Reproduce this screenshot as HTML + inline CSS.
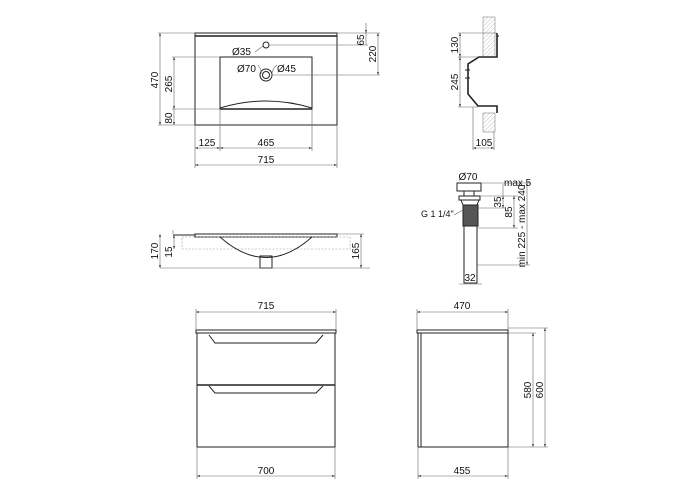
<!DOCTYPE html>
<html><head><meta charset="utf-8"><style>
html,body{margin:0;padding:0;background:#fff}
svg{display:block}
text{font-family:"Liberation Sans",Arial,sans-serif;font-size:10px;fill:#111}
.l{stroke:#222;stroke-width:1;fill:none}
.t{stroke:#666;stroke-width:0.6;fill:none}
.h{stroke:#222;stroke-width:1.6;fill:none}
</style></head><body>
<svg width="700" height="500" viewBox="0 0 700 500" xmlns="http://www.w3.org/2000/svg">
<defs>
<marker id="a" viewBox="0 0 10 10" refX="10" refY="5" markerWidth="5" markerHeight="5" orient="auto-start-reverse"><path d="M0,2 L10,5 L0,8z" fill="#222"/></marker>
<pattern id="hp" width="3" height="3" patternUnits="userSpaceOnUse" patternTransform="rotate(45)"><line x1="0" y1="0" x2="0" y2="3" stroke="#999" stroke-width="0.6"/></pattern>
</defs>

<!-- TOP VIEW -->
<rect x="195" y="33" width="142" height="92" class="l"/>
<line x1="195" y1="36" x2="337" y2="36" class="h"/>
<rect x="220" y="57" width="92" height="52" class="l"/>
<line x1="220" y1="109" x2="312" y2="109" class="h"/>
<path d="M220,108 Q266,94 312,108" class="l"/>
<circle cx="266" cy="45" r="3" class="l"/>
<circle cx="266" cy="75" r="6" class="l"/>
<circle cx="266" cy="75" r="3.5" class="l"/>
<path d="M255,52 L263,46 M258,65 Q262,70 261,74 M272,74 Q272,69 277,65" class="t"/>
<text x="232" y="55">Ø35</text>
<text x="237" y="72">Ø70</text>
<text x="277" y="72">Ø45</text>
<!-- dims -->
<path d="M195,33 H158 M195,125 H158 M220,57 H172 M220,109 H172" class="t"/>
<line x1="160" y1="33" x2="160" y2="125" class="t" marker-start="url(#a)" marker-end="url(#a)"/>
<line x1="174" y1="57" x2="174" y2="109" class="t" marker-start="url(#a)" marker-end="url(#a)"/>
<line x1="174" y1="109" x2="174" y2="125" class="t" marker-end="url(#a)"/>
<text transform="translate(158,80) rotate(-90)" text-anchor="middle">470</text>
<text transform="translate(172,84) rotate(-90)" text-anchor="middle">265</text>
<text transform="translate(172,118) rotate(-90)" text-anchor="middle">80</text>
<path d="M337,33 H380 M269,45 H368 M272,75 H380" class="t"/>
<line x1="366" y1="23" x2="366" y2="33" class="t" marker-end="url(#a)"/>
<line x1="366" y1="33" x2="366" y2="45" class="t"/>
<line x1="378" y1="33" x2="378" y2="75" class="t" marker-start="url(#a)" marker-end="url(#a)"/>
<text transform="translate(364,40) rotate(-90)" text-anchor="middle">65</text>
<text transform="translate(376,54) rotate(-90)" text-anchor="middle">220</text>
<path d="M195,125 V168 M220,109 V151 M312,109 V151 M337,125 V168" class="t"/>
<line x1="195" y1="148" x2="220" y2="148" class="t" marker-start="url(#a)" marker-end="url(#a)"/>
<line x1="220" y1="148" x2="312" y2="148" class="t" marker-start="url(#a)" marker-end="url(#a)"/>
<line x1="195" y1="165" x2="337" y2="165" class="t" marker-start="url(#a)" marker-end="url(#a)"/>
<text x="207" y="146" text-anchor="middle">125</text>
<text x="266" y="146" text-anchor="middle">465</text>
<text x="266" y="163" text-anchor="middle">715</text>

<!-- SECTION VIEW -->
<rect x="483" y="17" width="12" height="40" fill="url(#hp)" stroke="#888" stroke-width="0.6"/>
<rect x="483" y="113" width="12" height="19" fill="url(#hp)" stroke="#888" stroke-width="0.6"/>
<path d="M497,33 V57 H479 L468,64 V94 L478,106 H497 V113" class="h"/>
<path d="M497,36 H499 M465,70 H470 M465,78 H470" class="l"/>
<path d="M497,33 H458 M478,57 H458 M478,107 H458" class="t"/>
<line x1="460" y1="33" x2="460" y2="57" class="t" marker-start="url(#a)" marker-end="url(#a)"/>
<line x1="460" y1="57" x2="460" y2="107" class="t" marker-start="url(#a)" marker-end="url(#a)"/>
<text transform="translate(458,45) rotate(-90)" text-anchor="middle">130</text>
<text transform="translate(458,82) rotate(-90)" text-anchor="middle">245</text>
<path d="M473,107 V150 M494,132 V150" class="t"/>
<line x1="473" y1="148" x2="494" y2="148" class="t" marker-start="url(#a)" marker-end="url(#a)"/>
<text x="484" y="146" text-anchor="middle">105</text>

<!-- DRAIN -->
<rect x="457" y="183" width="24" height="8" class="l"/>
<rect x="464" y="191" width="10" height="5" class="l"/>
<rect x="459" y="196" width="21" height="4" class="l"/>
<path d="M461,200 L463,205 H477 L479,200" class="l"/>
<rect x="463" y="205" width="15" height="21" fill="#555" stroke="#222"/>
<rect x="464" y="226" width="13" height="57" class="l"/>
<text x="468" y="180" text-anchor="middle">Ø70</text>
<path d="M481,183 H530 M480,196 H518 M478,208 H505 M478,228 H518 M477,265 H530" class="t"/>
<line x1="503" y1="184" x2="503" y2="196" class="t"/>
<text x="504" y="186">max.5</text>
<line x1="503" y1="196" x2="503" y2="208" class="t" marker-start="url(#a)" marker-end="url(#a)"/>
<line x1="514" y1="196" x2="514" y2="228" class="t" marker-start="url(#a)" marker-end="url(#a)"/>
<line x1="527" y1="183" x2="527" y2="265" class="t" marker-start="url(#a)" marker-end="url(#a)"/>
<text transform="translate(501,202) rotate(-90)" text-anchor="middle">35</text>
<text transform="translate(512,212) rotate(-90)" text-anchor="middle">85</text>
<text transform="translate(525,226) rotate(-90)" text-anchor="middle">min 225 - max 240</text>
<text x="421" y="217" style="font-size:9px">G 1 1/4"</text>
<path d="M454,215 L463,210" class="t"/>
<line x1="459" y1="284" x2="482" y2="284" class="t"/>
<text x="470" y="281" text-anchor="middle">32</text>

<!-- FRONT ELEVATION OF BASIN -->
<path d="M173,235 H195" class="l"/>
<rect x="195" y="234" width="142" height="3" class="l"/>
<rect x="182" y="237" width="168" height="12" fill="none" stroke="#999" stroke-width="0.6" stroke-dasharray="2,1.5"/>
<path d="M220,237 Q266,278 312,237" class="l"/>
<rect x="260" y="256" width="12" height="12" class="l"/>
<path d="M160,268 H370 M337,234 H364 M173,234 V230" class="t"/>
<line x1="160" y1="234" x2="160" y2="268" class="t" marker-start="url(#a)" marker-end="url(#a)"/>
<line x1="174" y1="235" x2="174" y2="249" class="t" marker-start="url(#a)" marker-end="url(#a)"/>
<line x1="361" y1="234" x2="361" y2="268" class="t" marker-start="url(#a)" marker-end="url(#a)"/>
<text transform="translate(158,251) rotate(-90)" text-anchor="middle">170</text>
<text transform="translate(172,252) rotate(-90)" text-anchor="middle">15</text>
<text transform="translate(359,251) rotate(-90)" text-anchor="middle">165</text>

<!-- CABINET FRONT -->
<rect x="196" y="330" width="140" height="3" class="l"/>
<rect x="197" y="333" width="138" height="114" class="l"/>
<line x1="197" y1="385" x2="335" y2="385" class="h"/>
<path d="M209,335 L215,343 H316 L323,335" class="l"/>
<path d="M209,386 L215,393 H316 L323,386" class="l"/>
<path d="M196,330 V309 M336,330 V309 M197,447 V479 M335,447 V479" class="t"/>
<line x1="196" y1="312" x2="336" y2="312" class="t" marker-start="url(#a)" marker-end="url(#a)"/>
<line x1="197" y1="476" x2="335" y2="476" class="t" marker-start="url(#a)" marker-end="url(#a)"/>
<text x="266" y="309" text-anchor="middle">715</text>
<text x="266" y="474" text-anchor="middle">700</text>

<!-- CABINET SIDE -->
<rect x="417" y="330" width="91" height="3" class="l"/>
<rect x="418" y="333" width="90" height="114" class="l"/>
<line x1="421" y1="333" x2="421" y2="447" class="l"/>
<path d="M417,330 V309 M508,330 V309 M418,447 V479 M508,447 V479" class="t"/>
<path d="M508,333 H536 M508,328 H548 M508,447 H548" class="t"/>
<line x1="417" y1="312" x2="508" y2="312" class="t" marker-start="url(#a)" marker-end="url(#a)"/>
<line x1="418" y1="476" x2="508" y2="476" class="t" marker-start="url(#a)" marker-end="url(#a)"/>
<line x1="533" y1="333" x2="533" y2="447" class="t" marker-start="url(#a)" marker-end="url(#a)"/>
<line x1="545" y1="328" x2="545" y2="447" class="t" marker-start="url(#a)" marker-end="url(#a)"/>
<text x="462" y="309" text-anchor="middle">470</text>
<text x="462" y="474" text-anchor="middle">455</text>
<text transform="translate(531,390) rotate(-90)" text-anchor="middle">580</text>
<text transform="translate(543,390) rotate(-90)" text-anchor="middle">600</text>
</svg>
</body></html>
